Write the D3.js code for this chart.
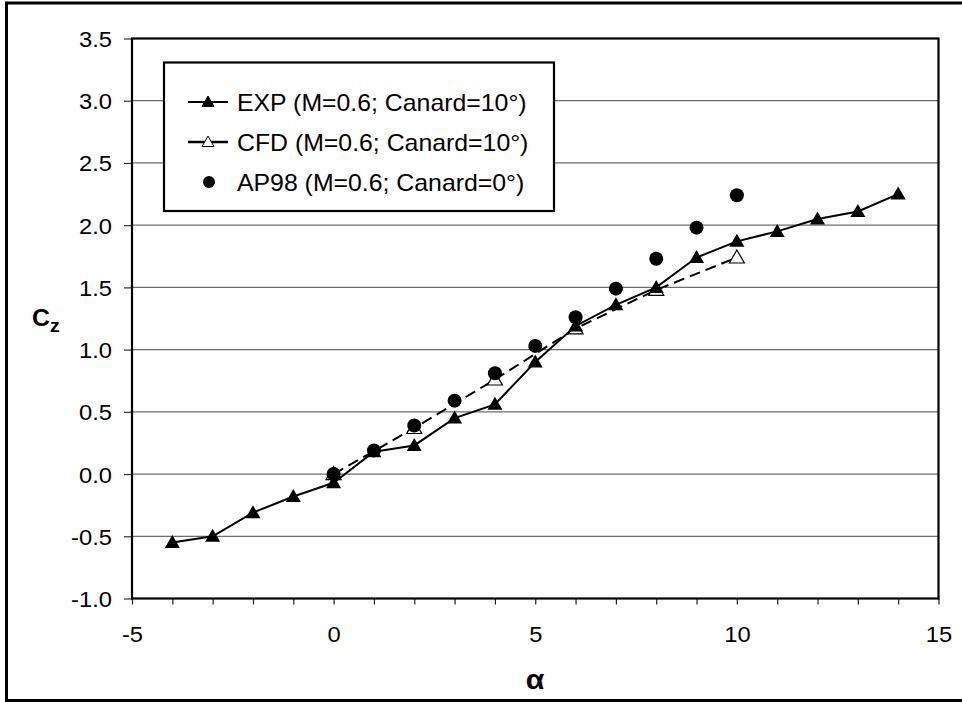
<!DOCTYPE html>
<html>
<head>
<meta charset="utf-8">
<script src="https://cdn.jsdelivr.net/npm/d3@7"></script>
<style>
  html, body { margin: 0; padding: 0; background: #fff; }
  svg { display: block; font-family: "Liberation Sans", Arial, sans-serif; }
</style>
</head>
<body>
<svg id="chart" width="962" height="702"></svg>
<script>
// ---- data ----
const expAlpha = [-4, -3, -2, -1, 0, 1, 2, 3, 4, 5, 6, 7, 8, 9, 10, 11, 12, 13, 14];
const expCz    = [-0.55, -0.50, -0.31, -0.18, -0.07, 0.18, 0.23, 0.45, 0.56, 0.90, 1.19, 1.36, 1.50, 1.74, 1.87, 1.95, 2.05, 2.11, 2.25];
const cfdAlpha = [0, 2, 4, 6, 8, 10];
const cfdCz    = [0.00, 0.37, 0.76, 1.17, 1.48, 1.74];
const apAlpha  = [0, 1, 2, 3, 4, 5, 6, 7, 8, 9, 10];
const apCz     = [0.00, 0.19, 0.39, 0.59, 0.81, 1.03, 1.26, 1.49, 1.73, 1.98, 2.24];
const xTickLabels = [-5, 0, 5, 10, 15];
const yTickValues = [-1.0, -0.5, 0.0, 0.5, 1.0, 1.5, 2.0, 2.5, 3.0, 3.5];
const legendLabels = ["EXP (M=0.6; Canard=10°)", "CFD (M=0.6; Canard=10°)", "AP98 (M=0.6; Canard=0°)"];

// ---- layout ----
const SX = 1.08; // horizontal text stretch seen in the reference
const L = 132, R = 938.5, T = 38.5, B = 598.5;
const svg = d3.select("#chart");

const x = d3.scaleLinear().domain([-5, 15]).range([L, R]);
const y = d3.scaleLinear().domain([-1, 3.5]).range([B, T]);

// outer frame
svg.append("rect").attr("x", 6.5).attr("y", 3).attr("width", 970).attr("height", 697.5)
  .attr("fill", "none").attr("stroke", "#000").attr("stroke-width", 3);

// gridlines
svg.append("g").selectAll("line").data(yTickValues.slice(1, -1)).join("line")
  .attr("x1", L).attr("x2", R).attr("y1", d => y(d)).attr("y2", d => y(d))
  .attr("stroke", "#6e6e6e").attr("stroke-width", 1.2);

// y axis
const yAxis = svg.append("g").attr("transform", `translate(${L},0)`)
  .call(d3.axisLeft(y).tickValues(yTickValues).tickSize(8).tickFormat(d3.format(".1f")));
yAxis.select(".domain").remove();
yAxis.selectAll(".tick line").attr("stroke", "#333").attr("stroke-width", 1.2);
yAxis.selectAll(".tick text")
  .attr("x", null).attr("dy", null)
  .attr("text-anchor", "end")
  .attr("transform", "translate(-20,8) scale(" + SX + ",1)")
  .attr("font-size", 22).attr("fill", "#000")
  .text(d => d3.format(".1f")(d).replace("−", "-"));

// x axis
const xAxis = svg.append("g").attr("transform", `translate(0,${B})`)
  .call(d3.axisBottom(x).tickValues(d3.range(-5, 16, 1)).tickSize(6)
        .tickFormat(d => xTickLabels.includes(d) ? String(d) : ""));
xAxis.select(".domain").remove();
xAxis.selectAll(".tick line").attr("stroke", "#222").attr("stroke-width", 1.2);
xAxis.selectAll(".tick text")
  .attr("y", null).attr("dy", null)
  .attr("text-anchor", "middle")
  .attr("transform", "translate(0,43) scale(" + SX + ",1)")
  .attr("font-size", 22).attr("fill", "#000")
  .text(d => xTickLabels.includes(d) ? String(d) : "");

// plot frame
svg.append("rect").attr("x", L).attr("y", T).attr("width", R - L).attr("height", B - T)
  .attr("fill", "none").attr("stroke", "#000").attr("stroke-width", 2.2);

// markers
const tri = "M0,-7.5L7.5,5.5L-7.5,5.5Z";
const line = d3.line().x(d => x(d[0])).y(d => y(d[1]));
const expPts = expAlpha.map((a, i) => [a, expCz[i]]);
const cfdPts = cfdAlpha.map((a, i) => [a, cfdCz[i]]);
const apPts  = apAlpha.map((a, i) => [a, apCz[i]]);

// CFD
svg.append("path").datum(cfdPts).attr("d", line).attr("fill", "none")
  .attr("stroke", "#000").attr("stroke-width", 2).attr("stroke-dasharray", "11,6");
svg.append("g").selectAll("path").data(cfdPts).join("path")
  .attr("d", tri).attr("transform", d => `translate(${x(d[0])},${y(d[1])})`)
  .attr("fill", "#fff").attr("stroke", "#000").attr("stroke-width", 1.2);

// EXP
svg.append("path").datum(expPts).attr("d", line).attr("fill", "none")
  .attr("stroke", "#000").attr("stroke-width", 2);
svg.append("g").selectAll("path").data(expPts).join("path")
  .attr("d", tri).attr("transform", d => `translate(${x(d[0])},${y(d[1])})`)
  .attr("fill", "#000");

// AP98
svg.append("g").selectAll("circle").data(apPts).join("circle")
  .attr("cx", d => x(d[0])).attr("cy", d => y(d[1])).attr("r", 7).attr("fill", "#000");

// legend
const lg = svg.append("g");
lg.append("rect").attr("x", 164).attr("y", 62.5).attr("width", 390).attr("height", 148.5)
  .attr("fill", "#fff").attr("stroke", "#000").attr("stroke-width", 2.2);
const rows = [102, 142, 182];
const triS = "M0,-6L6,4.5L-6,4.5Z";
legendLabels.forEach((lab, i) => {
  const cy = rows[i];
  if (i < 2) {
    lg.append("line").attr("x1", 188).attr("x2", 228).attr("y1", cy).attr("y2", cy)
      .attr("stroke", "#000").attr("stroke-width", i === 1 ? 2.6 : 2);
    lg.append("path").attr("d", triS).attr("transform", `translate(208,${cy})`)
      .attr("fill", i === 0 ? "#000" : "#fff").attr("stroke", "#000").attr("stroke-width", 1);
  } else {
    lg.append("circle").attr("cx", 209).attr("cy", cy).attr("r", 6).attr("fill", "#000");
  }
  lg.append("text").attr("transform", `translate(237,${cy + 8.5}) scale(${SX},1)`)
    .attr("font-size", 23).attr("fill", "#000").text(lab);
});

// axis titles
const yt = svg.append("text").attr("transform", `translate(32,326) scale(${SX},1)`)
  .attr("font-size", 23).attr("font-weight", "bold").attr("fill", "#000");
yt.append("tspan").text("C");
yt.append("tspan").attr("font-size", 18).attr("dy", 6).text("z");

svg.append("text").attr("transform", `translate(535,689) scale(${SX},1)`)
  .attr("text-anchor", "middle").attr("font-size", 28).attr("font-weight", "bold")
  .attr("fill", "#000").text("α");
</script>
</body>
</html>
